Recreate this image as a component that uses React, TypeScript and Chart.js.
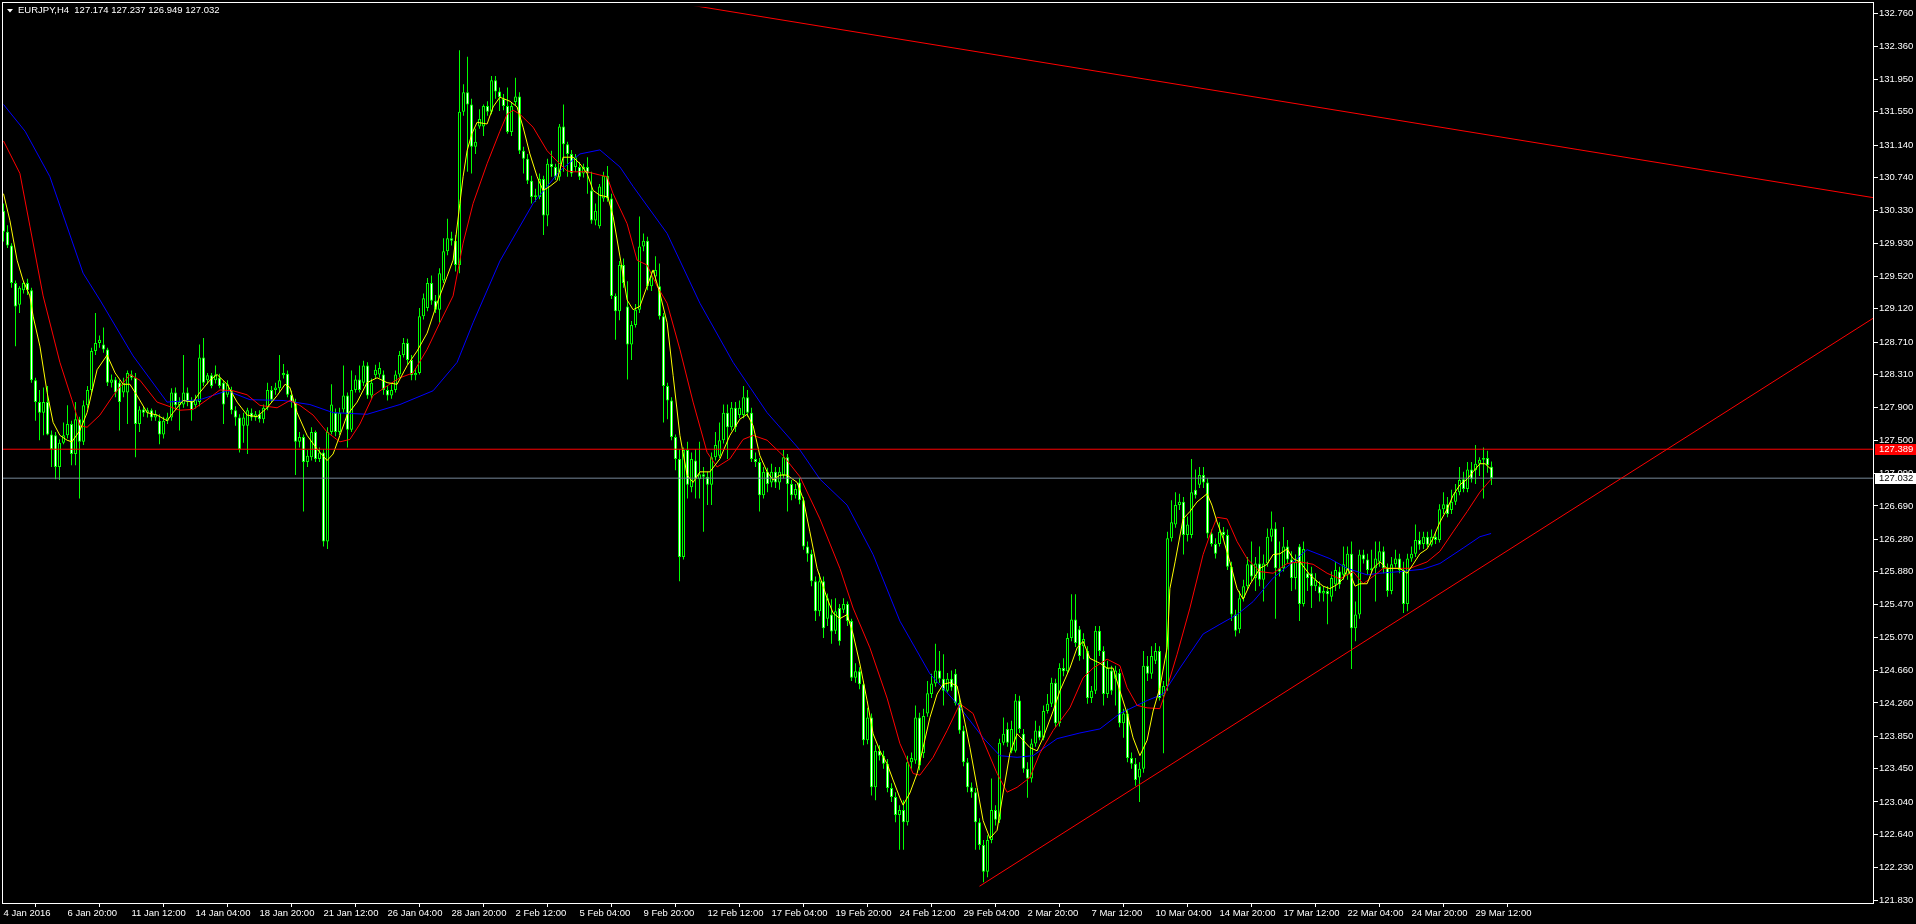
import React, { useEffect, useRef } from 'react';
import { Chart, registerables } from 'chart.js';

Chart.register(...registerables);

const chartTitle = 'EURJPY,H4  127.174 127.237 126.949 127.032';

const xTickBars = [0, 16, 32, 48, 64, 80, 96, 112, 128, 144, 160, 176, 192, 208, 224, 240, 256, 272, 288, 304, 320, 336, 352, 368];
const xTickLabels = ['4 Jan 2016', '6 Jan 20:00', '11 Jan 12:00', '14 Jan 04:00', '18 Jan 20:00', '21 Jan 12:00', '26 Jan 04:00', '28 Jan 20:00', '2 Feb 12:00', '5 Feb 04:00', '9 Feb 20:00', '12 Feb 12:00', '17 Feb 04:00', '19 Feb 20:00', '24 Feb 12:00', '29 Feb 04:00', '2 Mar 20:00', '7 Mar 12:00', '10 Mar 04:00', '14 Mar 20:00', '17 Mar 12:00', '22 Mar 04:00', '24 Mar 20:00', '29 Mar 12:00'];

const yTickValues = [132.76, 132.36, 131.95, 131.55, 131.14, 130.74, 130.33, 129.93, 129.52, 129.12, 128.71, 128.31, 127.9, 127.5, 127.09, 126.69, 126.28, 125.88, 125.47, 125.07, 124.66, 124.26, 123.85, 123.45, 123.04, 122.64, 122.23, 121.83];

const open = [
  130.33,130.07,129.90,129.44,129.17,129.35,129.44,129.35,128.24,127.97,
  127.84,127.97,127.57,127.56,127.17,127.47,127.56,127.70,127.33,127.76,
  127.48,127.93,128.12,128.60,128.70,128.68,128.62,128.21,128.25,128.21,
  128.09,128.09,128.31,128.27,127.70,127.88,127.84,127.87,127.78,127.74,
  127.57,127.74,127.78,128.09,127.93,127.94,128.09,127.99,127.93,127.97,
  128.52,128.24,128.30,128.24,128.27,128.21,128.06,128.11,127.87,127.78,
  127.68,127.68,127.84,127.78,127.82,127.76,127.90,128.12,128.12,128.14,
  128.30,128.32,128.06,127.97,127.48,127.54,127.23,127.29,127.60,127.27,
  127.35,126.25,127.60,127.84,127.60,127.88,128.05,127.63,128.12,128.25,
  128.21,128.42,128.05,128.30,128.31,128.31,128.12,128.05,128.12,128.31,
  128.55,128.70,128.49,128.30,128.33,129.03,129.13,129.44,129.22,129.11,
  129.47,129.83,129.99,129.96,129.66,131.55,131.79,131.64,131.12,131.37,
  131.37,131.62,131.55,131.94,131.80,131.71,131.62,131.30,131.67,131.74,
  131.07,130.97,130.70,130.50,130.50,130.72,130.27,130.91,130.87,130.75,
  131.37,131.15,131.03,130.87,130.87,130.79,130.87,130.58,130.21,130.14,
  130.48,130.76,130.48,129.28,129.09,129.66,129.15,128.68,128.92,129.11,
  129.89,129.96,129.40,129.52,129.40,129.03,128.17,127.99,127.54,127.27,
  126.06,127.38,126.92,127.25,127.02,127.08,127.05,126.95,127.29,127.31,
  127.50,127.84,127.66,127.90,127.81,127.81,128.03,127.84,127.27,127.23,
  126.82,127.11,126.98,127.11,126.98,127.07,127.29,126.96,126.82,126.98,
  126.76,126.19,126.10,125.76,125.39,125.76,125.30,125.35,125.15,125.43,
  125.41,125.48,125.27,124.57,124.65,124.49,123.80,124.08,123.22,123.67,
  123.61,123.51,123.21,123.10,122.88,122.94,122.79,123.53,123.55,124.08,
  123.64,124.13,124.37,124.50,124.66,124.56,124.41,124.56,124.62,124.26,
  123.92,123.53,123.22,123.16,122.79,122.51,122.18,122.57,122.94,122.82,
  123.77,123.94,123.67,123.67,124.29,123.88,123.45,123.33,123.76,123.92,
  123.83,124.16,124.25,124.51,124.01,124.69,124.65,125.06,125.29,125.17,
  124.96,124.90,124.32,124.41,125.15,124.90,124.37,124.66,124.56,124.63,
  124.01,124.13,123.58,123.51,123.34,123.45,124.72,124.62,124.78,124.90,
  124.35,124.47,126.29,126.46,126.70,126.74,126.33,126.33,126.89,126.95,
  127.07,126.98,126.35,126.22,126.22,126.37,126.33,125.94,125.35,125.17,
  125.55,125.70,125.97,125.80,125.98,125.78,125.98,126.31,126.41,125.92,
  125.92,126.19,126.03,125.80,126.19,125.48,125.86,125.86,125.70,125.70,
  125.61,125.64,125.57,125.72,125.88,125.84,125.84,126.10,125.18,125.35,
  126.09,126.03,125.90,125.92,126.00,126.13,125.92,125.64,125.97,126.04,
  125.90,125.48,126.04,126.10,126.27,126.22,126.31,126.21,126.31,126.27,
  126.65,126.71,126.64,126.74,126.86,127.02,126.90,127.14,127.13,127.21,
  127.26,127.28,127.174
];

const high = [
  130.42,130.15,129.93,129.47,129.40,129.47,129.49,129.38,128.27,128.12,
  128.15,128.17,127.62,127.60,127.51,127.72,127.93,127.74,127.97,127.79,
  127.99,128.17,128.64,129.07,128.79,128.89,128.64,128.31,128.28,128.24,
  128.27,128.36,128.36,128.33,127.92,127.92,127.90,127.89,127.87,127.82,
  127.79,127.84,128.14,128.15,128.03,128.55,128.15,128.03,128.06,128.68,
  128.76,128.33,128.33,128.42,128.32,128.24,128.24,128.16,127.92,127.82,
  127.84,127.90,127.89,127.86,127.87,127.94,128.21,128.17,128.21,128.55,
  128.44,128.36,128.11,128.01,127.60,127.57,127.38,127.66,127.62,127.41,
  127.39,127.66,128.19,127.89,127.90,128.42,128.09,128.36,128.30,128.42,
  128.48,128.46,128.26,128.43,128.46,128.36,128.17,128.19,128.36,128.60,
  128.76,128.75,128.55,128.39,129.13,129.31,129.50,129.53,129.29,129.62,
  129.99,130.23,130.07,130.03,132.31,131.89,132.23,131.71,131.34,131.58,
  131.64,131.68,131.99,131.99,131.85,131.77,131.85,131.67,131.97,131.79,
  131.12,131.03,130.76,130.60,130.79,130.76,130.97,131.07,130.91,131.40,
  131.64,131.18,131.08,131.03,130.93,130.91,130.99,130.81,130.42,130.66,
  130.81,130.88,130.54,129.31,129.71,129.74,129.46,128.97,129.18,130.26,
  130.05,130.01,129.58,129.77,129.68,129.07,128.21,128.03,127.57,127.39,
  127.41,127.48,127.35,127.39,127.48,127.17,127.11,127.35,127.60,127.72,
  127.94,127.94,127.97,127.97,127.99,128.17,128.12,127.90,127.35,127.28,
  127.17,127.16,127.21,127.17,127.17,127.38,127.33,127.01,126.96,127.03,
  126.80,126.25,126.15,125.82,125.86,125.82,125.61,125.54,125.55,125.48,
  125.55,125.51,125.30,124.75,124.70,124.53,124.20,124.13,123.74,123.74,
  123.67,123.57,123.27,123.16,123.00,123.06,123.61,123.65,124.23,124.14,
  124.19,124.53,124.62,124.99,124.90,124.86,124.63,124.66,124.68,124.35,
  123.98,123.58,123.28,123.21,122.84,122.57,122.63,123.33,123.00,123.82,
  124.08,124.02,124.04,124.37,124.35,123.94,123.53,123.82,124.04,123.98,
  124.23,124.37,124.57,124.56,124.75,124.81,125.12,125.60,125.60,125.21,
  125.12,124.96,124.47,125.21,125.21,124.96,124.78,124.72,124.72,124.68,
  124.19,124.19,123.65,123.58,123.53,124.90,124.84,124.96,125.00,124.96,
  124.53,126.37,126.76,126.86,126.84,126.80,126.56,127.27,127.14,127.17,
  127.17,127.03,126.40,126.29,126.49,126.43,126.40,126.00,125.41,125.64,
  125.78,126.06,126.25,126.06,126.19,126.09,126.41,126.62,126.49,126.25,
  126.43,126.27,126.13,126.09,126.22,126.25,126.00,125.94,125.86,125.76,
  125.70,125.70,125.88,126.00,125.94,126.19,126.19,126.25,125.51,126.15,
  126.15,126.10,126.15,126.25,126.25,126.19,125.98,126.06,126.15,126.10,
  126.00,126.10,126.19,126.46,126.37,126.37,126.37,126.40,126.37,126.71,
  126.86,126.80,126.89,126.96,127.17,127.11,127.23,127.23,127.44,127.29,
  127.41,127.37,127.237
];

const low = [
  129.95,129.87,129.38,128.66,129.07,129.31,129.29,128.21,127.74,127.50,
  127.56,127.56,127.17,127.02,127.01,127.45,127.52,127.19,127.19,126.78,
  127.44,127.89,128.09,128.55,128.64,128.58,128.17,128.15,128.03,127.62,
  128.03,127.70,128.24,127.29,127.60,127.79,127.78,127.74,127.74,127.45,
  127.52,127.70,127.74,127.87,127.62,127.90,127.92,127.74,127.89,127.92,
  128.17,128.19,128.14,128.20,128.14,127.70,128.03,127.82,127.68,127.35,
  127.47,127.33,127.74,127.74,127.72,127.71,127.87,127.97,128.06,128.09,
  128.26,128.03,127.90,127.07,127.41,126.62,127.17,127.25,127.23,127.23,
  126.19,126.16,127.57,127.55,127.56,127.84,127.41,127.60,128.09,128.09,
  128.17,128.01,128.01,128.26,128.27,128.06,127.99,128.01,128.09,128.27,
  128.52,128.43,128.24,128.24,128.31,128.99,129.09,129.17,129.07,128.95,
  129.44,129.78,129.90,129.58,129.56,131.50,130.81,130.79,131.03,131.34,
  131.25,131.50,131.52,131.71,131.56,131.57,131.28,131.25,131.63,131.03,
  130.79,130.66,130.42,130.44,130.47,130.03,130.14,130.75,130.71,130.70,
  130.81,130.75,130.75,130.81,130.71,130.74,130.54,130.17,130.15,130.11,
  130.44,130.44,129.24,128.74,128.98,129.38,128.25,128.49,128.89,129.07,
  129.83,129.35,129.34,129.46,128.99,127.72,127.76,127.50,127.13,125.76,
  126.03,126.78,126.86,126.78,126.78,126.37,126.70,126.70,127.25,127.28,
  127.46,127.27,127.62,127.60,127.77,127.77,127.79,127.23,127.17,126.62,
  126.78,126.86,126.92,126.91,126.89,127.03,126.62,126.76,126.78,126.71,
  126.15,126.00,125.70,125.27,125.33,125.06,125.21,124.99,125.11,124.97,
  125.37,125.21,124.53,124.51,124.43,123.74,123.75,123.12,123.06,123.55,
  123.45,123.16,123.04,122.79,122.45,122.45,122.75,123.45,123.51,123.43,
  123.58,124.09,124.32,124.46,124.51,124.23,124.39,124.41,124.23,123.88,
  123.48,123.16,123.09,122.45,122.45,122.05,122.11,122.53,122.75,122.78,
  123.74,123.72,123.64,123.65,123.89,123.40,123.09,123.28,123.72,123.80,
  123.80,124.13,124.21,123.96,123.97,124.59,124.62,125.02,124.95,124.78,
  124.80,124.25,124.26,124.37,124.84,124.23,124.32,124.36,124.23,123.96,
  123.83,123.53,123.45,123.24,123.04,123.40,124.53,124.56,124.74,124.29,
  123.64,124.41,126.25,126.42,126.64,126.09,126.25,126.29,126.78,126.91,
  126.91,126.29,126.19,126.04,126.19,126.27,125.90,125.27,125.08,125.12,
  125.51,125.66,125.76,125.64,125.70,125.51,125.94,126.25,125.30,125.82,
  125.88,125.98,125.64,125.66,125.27,125.45,125.64,125.43,125.64,125.51,
  125.51,125.23,125.51,125.64,125.67,125.78,125.78,124.68,125.02,125.30,
  125.98,125.84,125.86,125.51,125.94,125.86,125.57,125.60,125.93,125.86,
  125.37,125.39,126.00,126.06,126.15,126.16,126.18,126.19,126.22,126.24,
  126.59,126.55,126.59,126.70,126.82,126.86,126.86,126.98,126.96,127.06,
  126.78,127.10,126.949
];

const close = [
  130.07,129.90,129.44,129.15,129.38,129.44,129.35,128.24,127.97,127.84,
  127.97,127.57,127.39,127.17,127.47,127.56,127.70,127.33,127.76,127.48,
  127.93,128.12,128.60,128.70,128.74,128.62,128.21,128.25,128.09,127.97,
  128.21,128.33,128.27,127.70,127.88,127.84,127.87,127.78,127.82,127.57,
  127.74,127.78,128.09,127.93,127.97,128.09,127.97,127.87,128.00,128.52,
  128.21,128.30,128.17,128.31,128.17,127.94,128.19,127.87,127.78,127.39,
  127.78,127.87,127.78,127.82,127.76,127.90,128.12,128.00,128.15,128.24,
  128.33,128.06,127.97,127.48,127.54,127.23,127.31,127.60,127.27,127.35,
  126.25,127.60,127.94,127.60,127.84,128.05,127.63,128.12,128.25,128.12,
  128.42,128.05,128.21,128.37,128.39,128.12,128.05,128.12,128.31,128.55,
  128.70,128.49,128.30,128.33,129.03,129.25,129.44,129.22,129.11,129.56,
  129.83,129.99,129.96,129.66,131.55,131.79,131.64,131.12,131.18,131.46,
  131.62,131.55,131.94,131.80,131.73,131.62,131.30,131.62,131.74,131.07,
  130.97,130.70,130.50,130.52,130.72,130.27,130.91,130.87,130.75,131.37,
  131.15,131.03,130.79,130.99,130.75,130.87,130.79,130.21,130.33,130.63,
  130.76,130.48,129.28,129.09,129.66,129.44,128.68,128.92,129.11,129.89,
  129.96,129.40,129.52,129.60,129.03,128.17,127.99,127.54,127.27,126.06,
  127.38,126.95,127.27,127.02,127.08,127.05,126.95,127.29,127.44,127.50,
  127.84,127.66,127.90,127.66,127.90,128.03,127.84,127.27,127.23,126.82,
  127.11,126.96,127.11,126.98,127.11,127.29,126.96,126.82,126.90,126.76,
  126.19,126.10,125.76,125.39,125.76,125.18,125.55,125.14,125.39,125.02,
  125.48,125.27,124.57,124.65,124.49,123.80,124.08,123.22,123.67,123.61,
  123.51,123.21,123.10,122.88,122.94,122.79,123.53,123.58,124.08,123.49,
  124.10,124.38,124.50,124.66,124.56,124.41,124.56,124.45,124.26,123.92,
  123.53,123.22,123.16,122.79,122.51,122.18,122.57,122.94,122.82,123.77,
  123.88,123.77,123.94,124.29,123.94,123.45,123.33,123.76,123.92,123.83,
  124.16,124.25,124.51,124.01,124.69,124.65,125.06,125.29,125.00,124.84,
  125.05,124.32,124.41,125.15,124.90,124.37,124.69,124.41,124.66,124.01,
  124.13,123.58,123.51,123.31,123.45,124.72,124.62,124.84,124.90,124.32,
  124.47,126.29,126.49,126.70,126.74,126.33,126.46,126.86,126.82,127.07,
  126.98,126.35,126.22,126.10,126.37,126.33,125.94,125.35,125.15,125.55,
  125.70,125.97,125.82,125.98,125.78,125.98,126.31,126.41,125.92,125.88,
  126.19,126.03,125.80,126.00,125.48,126.16,125.80,125.70,125.78,125.61,
  125.64,125.60,125.80,125.90,125.72,125.97,126.10,125.18,125.35,126.09,
  126.03,125.90,125.92,126.04,126.13,125.92,125.64,125.97,126.04,125.90,
  125.48,126.04,126.10,126.27,126.21,126.31,126.21,126.31,126.27,126.65,
  126.71,126.59,126.74,126.86,127.01,126.90,127.14,127.02,127.21,127.26,
  127.28,127.19,127.032
];

// Moving averages: [bar index, price]
const yellowMA = [
  [0,130.54],[1.6,130.21],[3.4,129.72],[4.9,129.47],[6.6,129.28],[7.4,129.03],[9.1,128.66],[10.9,128.09],[12.4,127.72],[14.1,127.56],
  [15.9,127.50],[17.1,127.48],[19.1,127.62],[20.9,127.84],[23.4,128.37],[25.9,128.55],[27.9,128.33],[29.9,128.19],[31.6,128.19],[33.4,128.05],
  [35.9,127.84],[38.4,127.81],[40.9,127.74],[42.4,127.84],[44.9,127.99],[47.4,127.97],[49.1,128.09],[51.6,128.24],[53.4,128.31],[55.9,128.19],
  [58.4,127.97],[60.9,127.81],[63.4,127.79],[65.9,127.90],[68.4,128.05],[70.4,128.19],[71.6,128.15],[73.4,127.84],[75.9,127.56],[78.4,127.39],
  [80.9,127.25],[82.4,127.33],[84.1,127.56],[85.9,127.81],[88.4,127.97],[90.9,128.21],[93.4,128.27],[95.9,128.21],[98.4,128.19],[100.9,128.42],
  [103.4,128.60],[105.9,128.82],[108.4,129.19],[110.9,129.52],[112.4,129.72],[114.1,130.42],[114.9,130.75],[115.9,131.07],[117.1,131.28],[118.4,131.42],
  [120.9,131.40],[122.4,131.61],[124.1,131.73],[126.6,131.68],[128.4,131.61],[129.9,131.36],[131.6,131.03],[133.4,130.75],[134.9,130.58],[136.6,130.63],
  [138.4,130.70],[139.9,130.99],[142.4,130.99],[144.1,130.91],[145.9,130.79],[147.4,130.58],[149.1,130.52],[151.1,130.50],[152.4,130.26],[154.1,129.77],
  [155.9,129.23],[157.4,129.11],[159.1,129.15],[160.9,129.40],[162.4,129.60],[164.1,129.31],[165.9,128.95],[167.4,128.30],[169.1,127.56],[170.9,127.07],
  [172.4,126.98],[174.1,127.11],[176.6,127.11],[179.1,127.27],[181.6,127.56],[184.1,127.76],[185.9,127.82],[187.4,127.68],[189.1,127.31],[190.9,127.11],
  [192.4,127.01],[194.1,127.07],[195.9,127.07],[198.4,126.98],[199.9,126.78],[201.6,126.37],[203.4,125.92],[205.9,125.55],[207.4,125.37],[209.1,125.30],
  [210.9,125.35],[212.4,125.11],[214.1,124.74],[215.9,124.29],[217.4,123.88],[219.1,123.67],[220.9,123.51],[222.4,123.31],[224.1,123.09],[224.9,123.00],
  [226.6,123.15],[228.4,123.39],[229.9,123.71],[231.6,124.08],[233.4,124.37],[234.9,124.49],[236.6,124.51],[238.4,124.47],[239.9,124.13],[241.6,123.71],
  [243.4,123.22],[244.9,122.81],[246.6,122.59],[248.4,122.69],[249.9,123.15],[251.6,123.64],[253.4,123.88],[254.9,123.80],[256.6,123.71],[258.4,123.67],
  [259.9,123.83],[262.4,124.16],[264.1,124.41],[266.6,124.69],[268.4,124.94],[269.9,125.02],[271.6,124.81],[274.1,124.75],[275.9,124.69],[277.4,124.69],
  [279.1,124.41],[280.9,124.13],[282.4,123.83],[284.1,123.61],[285.9,123.80],[287.4,124.16],[289.1,124.45],[290.9,124.94],[291.6,125.67],[292.9,126.00],
  [294.9,126.53],[296.6,126.62],[298.4,126.74],[300.9,126.84],[302.1,126.70],[303.4,126.49],[304.9,126.29],[306.6,126.00],[308.4,125.67],[309.9,125.54],
  [311.6,125.72],[314.1,125.92],[315.9,125.97],[317.4,126.09],[319.1,126.10],[320.9,126.16],[322.4,126.04],[324.1,126.00],[326.6,125.84],[328.4,125.76],
  [329.9,125.70],[331.6,125.67],[333.4,125.72],[334.9,125.79],[336.1,125.92],[337.9,125.70],[339.1,125.73],[340.9,125.73],[342.4,125.92],[344.1,126.00],
  [345.9,125.92],[347.4,125.92],[349.1,125.92],[350.9,125.86],[352.4,125.97],[354.1,126.10],[355.9,126.16],[357.4,126.29],[359.1,126.49],[360.9,126.65],
  [362.4,126.82],[364.1,126.95],[365.9,127.02],[367.4,127.11],[369.1,127.21],[370.4,127.21],[371.9,127.14]
];

const redMA = [
  [0,131.19],[4.1,130.79],[6.6,130.14],[9.9,129.28],[14.1,128.46],[17.1,128.00],[19.1,127.68],[20.9,127.66],[24.1,127.81],[27.4,128.05],
  [31.6,128.31],[34.1,128.24],[38.4,127.97],[44.1,127.87],[47.4,127.88],[50.9,128.00],[54.1,128.12],[57.4,128.11],[60.9,128.06],[64.1,127.93],
  [68.4,127.90],[71.6,127.99],[74.1,127.93],[77.4,127.81],[80.9,127.60],[84.1,127.48],[86.6,127.51],[89.1,127.70],[92.4,128.05],[95.9,128.17],
  [99.1,128.27],[102.4,128.33],[105.9,128.62],[109.1,128.95],[112.4,129.28],[114.9,129.93],[117.4,130.42],[120.9,130.91],[124.1,131.31],[125.9,131.52],
  [127.4,131.57],[129.1,131.52],[132.4,131.36],[135.9,131.07],[138.4,130.94],[140.9,130.82],[142.4,130.81],[145.9,130.81],[149.1,130.77],[150.9,130.75],
  [152.4,130.54],[155.9,130.17],[158.4,129.72],[160.9,129.66],[163.4,129.40],[165.9,129.19],[169.1,128.62],[172.4,127.97],[175.9,127.35],[178.4,127.17],
  [181.6,127.27],[184.9,127.51],[187.4,127.56],[190.9,127.50],[194.9,127.31],[199.1,127.05],[204.1,126.53],[209.1,125.92],[212.4,125.43],[216.6,124.94],
  [220.9,124.32],[224.1,123.76],[227.4,123.39],[229.1,123.37],[232.4,123.59],[235.9,123.92],[239.1,124.25],[242.4,124.13],[244.9,123.80],[248.4,123.39],
  [250.9,123.16],[253.4,123.22],[256.6,123.34],[259.1,123.64],[262.4,123.92],[266.6,124.20],[269.9,124.57],[272.4,124.69],[275.9,124.80],[279.1,124.72],
  [280.9,124.45],[283.4,124.23],[285.9,124.20],[289.1,124.19],[290.9,124.45],[293.4,124.86],[296.6,125.43],[299.9,126.09],[301.6,126.33],[303.4,126.55],
  [305.9,126.53],[308.4,126.25],[310.9,126.04],[314.1,125.88],[317.4,125.86],[320.9,125.98],[324.1,126.00],[327.4,125.97],[330.9,125.86],[334.1,125.79],
  [337.4,125.88],[339.9,125.73],[342.4,125.82],[344.9,125.92],[348.4,125.92],[351.6,125.92],[355.9,126.00],[359.1,126.13],[362.4,126.37],[365.9,126.62],
  [369.1,126.86],[371.9,127.02]
];

const blueMA = [
  [0,131.64],[5.4,131.31],[11.6,130.75],[19.9,129.56],[24.1,129.23],[32.4,128.54],[40.9,127.97],[49.1,128.00],[55.9,128.11],[61.6,128.00],
  [69.9,127.99],[76.6,127.94],[82.4,127.84],[90.9,127.82],[99.1,127.94],[107.4,128.11],[113.4,128.46],[117.4,128.95],[124.1,129.71],[132.4,130.42],
  [139.1,130.82],[144.1,131.03],[149.1,131.08],[154.1,130.87],[157.4,130.63],[165.9,130.05],[174.1,129.19],[182.4,128.46],[190.9,127.84],[199.1,127.38],
  [204.1,127.02],[210.9,126.70],[217.4,126.09],[224.1,125.27],[231.6,124.62],[238.4,124.25],[244.9,123.83],[249.1,123.61],[253.4,123.59],[257.4,123.61],
  [263.4,123.82],[269.1,123.89],[274.1,123.94],[279.1,124.13],[285.9,124.29],[289.9,124.37],[294.1,124.69],[299.9,125.11],[304.1,125.23],[308.4,125.35],
  [312.4,125.51],[317.4,125.80],[322.4,126.00],[325.9,126.15],[331.6,126.04],[335.9,125.92],[340.9,125.84],[344.1,125.86],[349.1,125.88],[354.9,125.91],
  [359.1,125.98],[364.9,126.17],[369.1,126.31],[371.9,126.35]
];

// Drawn objects: trend lines [bar, price] anchors and horizontal levels
const upperTrend = [[170, 132.88], [467.6, 130.49]];
const lowerTrend = [[244, 122.0], [467.6, 129.01]];
const resistanceLevel = 127.389;
const bidPrice = 127.032;

const X_MIN = -0.375;
const X_MAX = 467.625;
const Y_MAX = 132.8459;
const Y_MIN = 121.7934;
const FONT_FAMILY = "'Liberation Sans', Arial, sans-serif";

const toPts = (arr: number[][]) => arr.map(([x, y]) => ({ x, y }));

export default function App() {
  const canvasRef = useRef<HTMLCanvasElement | null>(null);

  useEffect(() => {
    const canvas = canvasRef.current;
    if (!canvas) return;

    const wickData = open.map((_, i) => ({ x: i, y: [low[i], high[i]] }));
    const bodyData = open.map((o, i) => {
      const c = close[i];
      if (Math.abs(o - c) < 0.012) {
        const m = (o + c) / 2;
        return { x: i, y: [m - 0.006, m + 0.006] };
      }
      return { x: i, y: [o, c] };
    });
    const bodyFill = open.map((o, i) => (close[i] >= o ? '#000000' : '#FFFFFF'));

    const bgPlugin = {
      id: 'mt4bg',
      beforeDraw(chart: any) {
        const ctx = chart.ctx;
        ctx.save();
        ctx.fillStyle = '#000000';
        ctx.fillRect(0, 0, chart.width, chart.height);
        ctx.restore();
      },
      afterDraw(chart: any) {
        const ctx = chart.ctx;
        const a = chart.chartArea;
        const ys = chart.scales.y;
        ctx.save();
        // frame
        ctx.strokeStyle = '#FFFFFF';
        ctx.lineWidth = 1;
        ctx.strokeRect(2.5, 2.5, Math.round(a.right) - 3, Math.round(a.bottom) - 2);
        // title
        ctx.fillStyle = '#FFFFFF';
        ctx.beginPath();
        ctx.moveTo(7, 9);
        ctx.lineTo(13, 9);
        ctx.lineTo(10, 12.5);
        ctx.closePath();
        ctx.fill();
        ctx.font = `9.5px ${FONT_FAMILY}`;
        ctx.textBaseline = 'middle';
        ctx.textAlign = 'left';
        ctx.fillText(chartTitle, 18, 10.5);
        // price labels
        const yr = Math.round(ys.getPixelForValue(resistanceLevel));
        ctx.fillStyle = '#FF0000';
        ctx.fillRect(1875, yr - 5, 41, 11);
        ctx.fillStyle = '#FFFFFF';
        ctx.fillText(resistanceLevel.toFixed(3), 1879, yr + 0.5);
        const yb = Math.round(ys.getPixelForValue(bidPrice));
        ctx.fillStyle = '#FFFFFF';
        ctx.fillRect(1875, yb - 5, 41, 11);
        ctx.fillStyle = '#000000';
        ctx.fillText(bidPrice.toFixed(3), 1879, yb + 0.5);
        ctx.restore();
      },
    };

    const lineDs = (data: any[], color: string, order: number) => ({
      type: 'line',
      data,
      borderColor: color,
      backgroundColor: color,
      borderWidth: 1,
      pointRadius: 0,
      tension: 0,
      fill: false,
      order,
    });

    const chart = new Chart(canvas, {
      type: 'bar',
      data: {
        datasets: [
          lineDs(toPts(upperTrend), '#FF0000', 0),
          lineDs(toPts(lowerTrend), '#FF0000', 0),
          lineDs([{ x: X_MIN, y: resistanceLevel }, { x: X_MAX, y: resistanceLevel }], '#FF0000', 0),
          lineDs([{ x: X_MIN, y: bidPrice }, { x: X_MAX, y: bidPrice }], '#778899', 0),
          lineDs(toPts(yellowMA), '#FFFF00', 1),
          lineDs(toPts(redMA), '#FF0000', 2),
          lineDs(toPts(blueMA), '#0000FF', 3),
          {
            type: 'bar',
            data: bodyData,
            backgroundColor: bodyFill,
            borderColor: '#00FF00',
            borderWidth: 1,
            borderSkipped: false,
            barThickness: 3,
            grouped: false,
            inflateAmount: 0,
            order: 4,
          },
          {
            type: 'bar',
            data: wickData,
            backgroundColor: '#00FF00',
            borderWidth: 0,
            barThickness: 1,
            grouped: false,
            inflateAmount: 0,
            order: 5,
          },
        ] as any,
      },
      options: {
        animation: false,
        responsive: false,
        devicePixelRatio: 1,
        events: [],
        layout: { padding: { left: 2, top: 2, right: 0, bottom: 0 } },
        plugins: {
          legend: { display: false },
          tooltip: { enabled: false },
          title: { display: false },
        },
        scales: {
          x: {
            type: 'linear',
            min: X_MIN,
            max: X_MAX,
            offset: false,
            border: { display: false },
            grid: { display: true, drawOnChartArea: false, drawTicks: true, tickLength: 4, color: '#FFFFFF', lineWidth: 1 },
            ticks: {
              autoSkip: false,
              maxRotation: 0,
              minRotation: 0,
              align: 'start',
              padding: 1,
              color: '#FFFFFF',
              font: { family: FONT_FAMILY, size: 9.5 },
              callback: (_v: any, idx: number) => xTickLabels[idx],
            },
            afterBuildTicks: (scale: any) => {
              scale.ticks = xTickBars.map((v) => ({ value: v }));
            },
            afterFit: (scale: any) => {
              scale.height = 21;
            },
          },
          y: {
            type: 'linear',
            position: 'right',
            min: Y_MIN,
            max: Y_MAX,
            border: { display: false },
            grid: { display: true, drawOnChartArea: false, drawTicks: true, tickLength: 4, color: '#FFFFFF', lineWidth: 1 },
            ticks: {
              color: '#FFFFFF',
              padding: 1,
              font: { family: FONT_FAMILY, size: 9.5 },
              callback: (v: any) => Number(v).toFixed(3),
            },
            afterBuildTicks: (scale: any) => {
              scale.ticks = yTickValues.map((v) => ({ value: v }));
            },
            afterFit: (scale: any) => {
              scale.width = 42;
            },
          },
        },
      } as any,
      plugins: [bgPlugin],
    });

    return () => {
      chart.destroy();
    };
  }, []);

  return (
    <div style={{ position: 'fixed', left: 0, top: 0, width: 1916, height: 924, background: '#000' }}>
      <canvas ref={canvasRef} width={1916} height={924} style={{ display: 'block', width: 1916, height: 924 }} />
    </div>
  );
}
